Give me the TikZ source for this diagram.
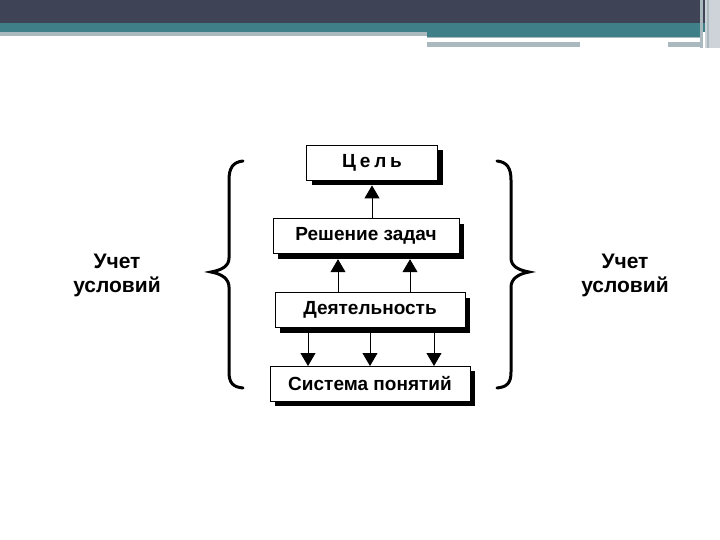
\documentclass[tikz,border=0pt]{standalone}
\usepackage{fontspec}
\setmainfont{Liberation Sans}
\newfontfamily\spacedfont[LetterSpace=20]{Liberation Sans}
\usetikzlibrary{arrows.meta,positioning,shadows}
\definecolor{hdrdark}{HTML}{3E4455}
\definecolor{hdrteal}{HTML}{3F7F88}
\definecolor{hdrgray}{HTML}{A9B9BE}
\definecolor{hdrlight}{HTML}{CDD3D8}

\begin{document}
\begin{tikzpicture}[x=1pt,y=-1pt,
 node distance=38pt,
 box/.style={draw,fill=white,line width=0.8pt,minimum height=35pt,inner sep=0pt,
              font=\fontsize{19}{22}\selectfont\bfseries,
              drop shadow={shadow xshift=5pt,shadow yshift=-5pt,fill=black,opacity=1}},
 arrow/.style={-{Triangle[width=15pt,length=13pt]},line width=0.8pt},
 side/.style={align=center,font=\fontsize{21}{24}\selectfont\bfseries},
 brace/.style={line width=3pt,line cap=round}
]
\useasboundingbox[fill=white] (0,0) rectangle (720,540);
% header bands
\fill[hdrdark] (0,0) rectangle (705,23);
\fill[hdrteal] (0,23) rectangle (705,32);
\fill[hdrgray] (0,32) rectangle (427,36);
\fill[hdrteal] (427,32) rectangle (700,37);
\fill[hdrgray] (427,37) rectangle (700,38.5);
\fill[hdrgray] (427,42) rectangle (580,47);
\fill[hdrgray] (668,42) rectangle (700,47);
\fill[hdrlight] (705,0) rectangle (720,48);
\fill[hdrgray] (700,0) rectangle (703,48);
\fill[hdrgray] (707,0) rectangle (709,48);

\node[box,minimum width=131pt] (cel) at (372,162.5) {\spacedfont\bfseries Цель};
\node[box,minimum width=186pt,below=of cel,xshift=-6pt] (res) {Решение задач};
\node[box,minimum width=190pt,below=of res,xshift=4pt] (dey) {Деятельность};
\node[box,minimum width=200pt,below=of dey] (sys) {Система понятий};

\draw[arrow] (cel.south |- res.north) -- ([yshift=-5pt]cel.south);
\draw[arrow] ([xshift=-32pt]dey.north) -- ([xshift=-32pt,yshift=-5pt]dey.north |- res.south);
\draw[arrow] ([xshift=40pt]dey.north) -- ([xshift=40pt,yshift=-5pt]dey.north |- res.south);
\foreach \dx in {-62,0,64}
  \draw[arrow] ([xshift=\dx pt,yshift=-5pt]dey.south) -- ([xshift=\dx pt]dey.south |- sys.north);

% braces
\draw[brace] (243,161) .. controls (233,162) and (229,168) .. (229,180) -- (229,258)
  .. controls (229,266) and (222,270) .. (211,272)
  .. controls (222,274) and (229,279) .. (229,287) -- (229,372)
  .. controls (229,383) and (233,387) .. (243,388);
\draw[brace] (497,161) .. controls (507,162) and (511,168) .. (511,180) -- (511,258)
  .. controls (511,266) and (518,270) .. (529,272)
  .. controls (518,274) and (511,279) .. (511,287) -- (511,372)
  .. controls (511,383) and (507,387) .. (497,388);

\node[side] (lcond) at (117,275) {Учет\\условий};
\node[side] (rcond) at (625,275) {Учет\\условий};
\end{tikzpicture}
\end{document}
